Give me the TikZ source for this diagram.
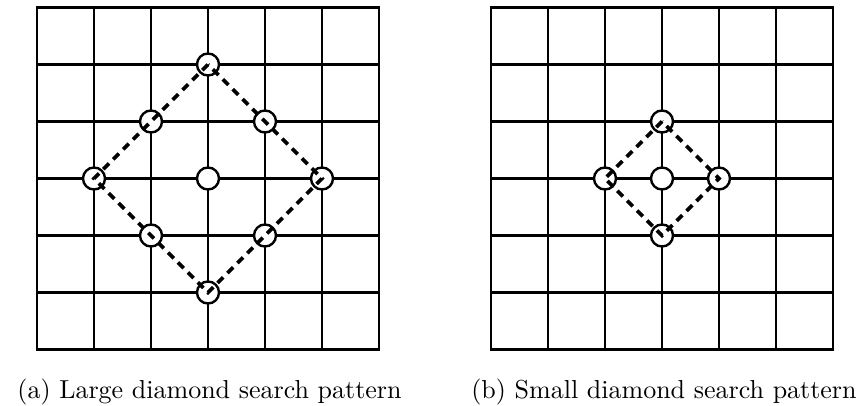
\documentclass[tikz,border=0pt]{standalone}
\begin{document}
\begin{tikzpicture}[x=1pt,y=-1pt,
  gridline/.style={line width=2.8pt, line cap=rect},
  pt/.style={circle, draw, fill=white, line width=2.4pt, minimum size=22pt, inner sep=0pt},
  dashline/.style={line width=3.6pt, dash pattern=on 8pt off 6pt},
  captext/.style={scale=2.6, transform shape, inner sep=0pt, anchor=base}]
\useasboundingbox (0,0) rectangle (861,405);
% grids
\foreach \i in {0,...,6}{
  \draw[gridline] (37+57*\i,7.5) -- (37+57*\i,349.5);
  \draw[gridline] (37,7.5+57*\i) -- (379,7.5+57*\i);
  \draw[gridline] (491+57*\i,7.5) -- (491+57*\i,349.5);
  \draw[gridline] (491,7.5+57*\i) -- (833,7.5+57*\i);
}
% large diamond
\node[pt] (c) at (208,178.5) {};
\node[pt] (t) at (208,64.5) {};
\node[pt] (b) at (208,292.5) {};
\node[pt] (l) at (94,178.5) {};
\node[pt] (r) at (322,178.5) {};
\node[pt] (tl) at (151,121.5) {};
\node[pt] (tr) at (265,121.5) {};
\node[pt] (bl) at (151,235.5) {};
\node[pt] (br) at (265,235.5) {};
\draw[dashline] (t.center) -- (tl.center) -- (l.center) -- (bl.center) -- (b.center) -- (br.center) -- (r.center) -- (tr.center) -- (t.center);
% small diamond
\node[pt] (sc) at (662,178.5) {};
\node[pt] (st) at (662,121.5) {};
\node[pt] (sb) at (662,235.5) {};
\node[pt] (sl) at (605,178.5) {};
\node[pt] (sr) at (719,178.5) {};
\draw[dashline] (st.center) -- (sl.center) -- (sb.center) -- (sr.center) -- (st.center);
% captions
\node[captext] (capa) at (209.5,398) {(a) Large diamond search pattern};
\node[captext] (capb) at (664,398) {(b) Small diamond search pattern};
\end{tikzpicture}
\end{document}
